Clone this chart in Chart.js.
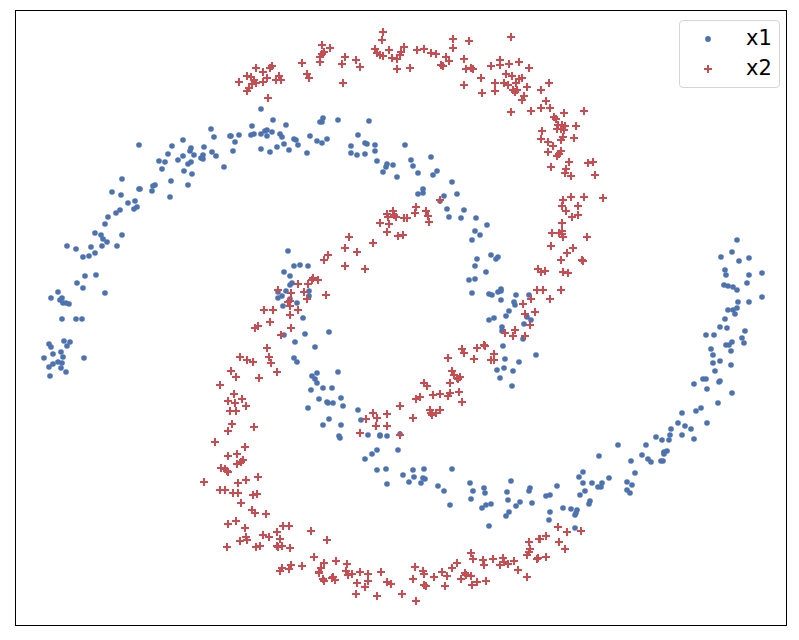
<!DOCTYPE html>
<html>
<head>
<meta charset="utf-8">
<script src="https://cdn.jsdelivr.net/npm/chart.js@4"></script>
<style>
    body { margin: 0; background: #fff; }
    #caixa { position: relative; width: 799px; height: 640px; }
    #legenda {
        position: absolute; left: 679px; top: 20px; width: 99px; height: 66px;
        border: 1px solid #d5d5d5; border-radius: 4px; background: #fff;
        font-family: "DejaVu Sans", sans-serif; font-size: 21px; color: #000;
    }
    #legenda span { position: absolute; left: 66px; line-height: 24px; }
    #legenda svg { position: absolute; left: 22px; }
</style>
</head>
<body>
<div id="caixa">
    <canvas id="grafico" width="799" height="640"></canvas>
    <div id="legenda"></div>
</div>
<script>
const seriesNames = ['x1', 'x2'];
const seriesColors = ['#4c72b0', '#c44e52'];

const x1X = [
    139,211,214,183,172,191,190,204,212,168, 183,194,203,201,203,159,165,178,191,188,
    162,184,192,122,171,188,155,153,139,140, 112,121,152,170,135,128,137,134,120,116,
    108,105,95,101,122,103,107,67,76,91, 102,117,95,89,83,96,85,77,83,105,
    58,51,62,60,63,66,69,62,76,82, 64,70,49,51,67,61,53,63,44,84,
    58,62,53,49,61,66,50,
    261,273,252,286,230,231,239,251,254,261, 265,267,272,267,280,282,235,233,216,224,
    261,270,277,284,289,294,296,298,310,307, 317,322,327,320,322,323,338,369,358,351,
    351,357,365,367,365,375,375,377,387,386, 393,
    405,383,397,431,411,413,418,437,433,452, 423,418,423,457,444,440,447,464,449,461,
    476,487,475,480,472,477,491,498,
    496,475,486,469,475,472,489,492,498,501, 501,501,516,529,514,515,509,506,527,531,
    489,494,524,502,502,523,503,536,505,519, 497,504,513,500,512,
    338,317,312,315,317,323,332,311,341,319, 327,328,333,343,308,358,329,361,323,341,
    339,340,368,380,380,387,400,377,398,372, 365,377,386,413,424,452,403,414,423,425,
    387,409,421,438,444,470,473,471,
    511,484,485,507,530,529,450,508,482,486, 491,520,516,532,509,506,489,
    557,550,546,563,550,549,571,577,576,575, 575,580,585,583,579,583,592,590,589,599,
    598,601,602,609,618,631,627,632,627,630, 635,642,646,648,651,656,662,661,663,664,
    664,667,669,670,671,
    737,732,721,739,749,725,726,749,762,747, 724,728,733,737,762,738,749,737,728,733,
    735,725,720,727,745,706,714,742,732,744, 726,729,711,731,713,713,720,731,715,703,
    706,720,719,694,707,732,718,701,696,682, 678,707,685,691,682,694,
    288,294,300,308,284,290,292,290,286,309, 278,309,282,278,290,297,283,303,284,305,
    329,295,315,294,297
];
const x1Y = [
    145,129,137,140,146,148,151,147,152,154, 156,155,155,158,159,161,162,160,162,164,
    169,171,174,179,181,185,185,186,189,189, 192,195,191,197,201,203,207,209,210,213,
    217,224,233,235,235,239,242,246,249,247, 246,246,253,256,257,275,276,283,288,293,
    292,298,298,300,303,303,304,319,319,319, 341,342,344,347,346,352,354,357,358,358,
    362,363,364,367,368,372,376,
    109,120,126,125,136,136,135,135,134,134, 131,130,132,136,134,137,142,151,156,167,
    149,152,147,144,150,139,140,145,136,153, 141,143,139,122,122,118,120,121,135,146,
    153,155,143,144,154,145,151,161,164,167, 165,
    145,172,177,157,160,166,173,171,175,182, 189,194,193,194,196,201,209,210,217,218,
    218,225,231,235,240,259,255,257,
    259,266,272,280,279,293,294,295,292,289, 291,300,295,295,302,305,311,316,317,320,
    320,318,324,327,331,339,346,355,359,362, 370,368,371,378,386,
    372,373,376,379,383,388,388,390,398,399, 402,403,403,406,408,410,419,420,425,425,
    436,438,435,435,436,436,434,450,450,454, 459,470,469,470,469,469,475,477,478,479,
    484,482,483,486,491,483,491,499,
    481,488,493,492,488,491,505,500,508,505, 504,502,506,503,512,516,526,
    486,495,496,508,512,520,509,510,513,515, 528,495,491,483,477,472,483,501,504,456,
    487,487,483,478,445,461,482,485,490,493, 473,455,445,459,462,437,440,461,461,452,
    454,451,440,435,429,
    240,252,257,261,258,270,275,275,273,283, 285,286,287,290,297,302,302,308,310,310,
    314,319,327,328,331,335,335,338,342,343, 345,345,349,351,355,363,361,365,371,379,
    379,381,382,384,389,393,403,408,411,413, 423,423,426,429,435,439,
    251,266,265,266,272,276,283,285,291,291, 292,296,296,298,299,303,306,318,335,334,
    332,342,347,358,362
];

const x2X = [
    239,247,249,247,251,256,254,256,252,263, 263,267,272,270,279,276,281,268,302,307,
    309,322,330,324,322,320,320,345,342,356, 360,343,383,382,375,377,380,383,389,392,
    397,400,397,
    404,401,410,417,424,431,436,453,453,469, 511,446,449,441,443,464,466,471,473,491,
    500,500,509,519,529,464,481,482,506,512, 522,519,516,495,495,504,508,527,513,517,
    515,524,522,549,541,546,541,550,531,511, 564,584,554,556,576,558,562,565,557,561,
    564,542,541,563,561,574,548,553,548,561, 559,557,569,588,593,551,566,565,571,595,
    440,416,415,426,428,603,563,571,584,
    429,387,388,393,394,396,404,407,380,389, 387,398,403,
    562,578,566,578,572,562,552,559,562,562, 563,587,551,573,567,561,582,583,538,545,
    541,563,568,537,543,561,531,550,523,535, 525,530,515,505,513,525,477,484,485,462,
    464,494,474,491,494,
    448,452,454,457,460,458,450,424,427,459, 450,448,440,433,420,416,462,400,440,430,
    436,432,431,413,373,387,366,377,376,387, 360,400,
    349,373,345,357,328,324,345,365,313,312, 318,298,308,278,291,304,326,307,290,288,
    290,264,273,298,290,270,258,255,291,281, 267,240,247,253,269,271,277,259,234,242,
    231,236,220,228,235,246,230,236,232,254, 228,215,245,228,237,243,241,237,221,225,
    227,228,258,246,238,204,220,225,233,238, 253,257,241,252,255,266,228,236,245,283,
    289,277,311,263,269,280,246,240,247,227, 256,260,277,278,282,290,314,291,302,282,
    280,289,319,
    327,324,336,347,321,319,323,324,332,333, 335,346,348,352,360,368,368,357,365,356,
    377,381,387,391,402,416,415,413,423,424, 424,426,434,442,447,445,452,457,461,465,
    466,471,472,477,486,471,473,483,484,493, 503,500,504,508,514,518,527,529,530,529,
    527,539,537,
    558,567,581,546,540,559,565,538,546
];
const x2Y = [
    82,91,88,76,77,68,80,83,84,72, 82,78,66,68,76,80,80,98,63,74,
    78,45,48,52,54,57,62,57,64,60, 67,83,32,40,49,53,55,56,50,58,
    59,55,69,
    47,52,68,50,49,53,54,39,48,41, 37,57,61,65,66,59,69,68,69,66,
    60,65,64,62,68,85,78,93,74,76, 78,79,83,83,91,83,85,87,90,90,
    92,96,100,83,90,101,108,108,111,112, 113,111,117,119,126,125,125,126,129,129,
    130,131,139,137,140,138,142,146,152,151, 154,156,162,163,162,167,169,173,176,175,
    200,207,213,211,216,198,200,197,197,
    222,214,217,211,215,217,218,218,223,224, 232,236,235,
    206,206,211,215,217,223,233,233,231,234, 237,237,246,248,253,260,260,261,269,271,
    272,272,273,290,290,290,299,299,304,312, 314,325,330,333,336,336,348,345,346,349,
    353,354,359,360,360,
    358,371,375,378,377,379,383,383,386,392, 393,396,394,395,397,399,402,406,410,410,
    413,415,413,418,413,414,419,418,426,426, 433,435,
    237,243,248,252,255,260,266,269,278,280, 280,284,284,290,293,292,295,299,301,302,
    306,310,310,310,315,322,326,328,328,335, 348,357,360,362,357,363,372,378,394,399,
    371,377,385,401,403,406,411,411,424,427, 431,442,447,456,454,460,462,464,468,469,
    471,472,477,480,483,482,490,490,493,493, 495,494,503,510,513,514,524,521,528,526,
    526,532,531,535,537,539,537,541,540,547, 547,546,546,547,546,548,557,565,566,568,
    571,569,572,
    540,563,561,564,568,573,579,581,578,577, 580,571,575,574,572,574,581,583,587,594,
    596,572,582,584,594,601,567,579,571,574, 585,586,577,572,576,586,568,563,579,573,
    575,576,585,582,581,553,559,560,565,559, 558,565,562,564,561,570,577,542,549,552,
    555,539,559,
    527,532,531,536,539,542,549,558,557
];

function juntar(xs, ys) {
    return xs.map((x, i) => ({ x: x, y: ys[i] }));
}

// moldura preta em volta da area do grafico
const moldura = {
    id: 'moldura',
    afterDraw(chart) {
        const a = chart.chartArea;
        const ctx = chart.ctx;
        ctx.save();
        ctx.strokeStyle = '#000';
        ctx.lineWidth = 1;
        ctx.strokeRect(a.left, a.top, a.right - a.left, a.bottom - a.top);
        ctx.restore();
    }
};

new Chart(document.getElementById('grafico'), {
    type: 'scatter',

    data: {
        datasets: [{
            label: seriesNames[0],
            data: juntar(x1X, x1Y),
            pointStyle: 'circle',
            pointRadius: 2.8,
            pointBackgroundColor: seriesColors[0],
            pointBorderWidth: 0,
            order: 2
        }, {
            label: seriesNames[1],
            data: juntar(x2X, x2Y),
            pointStyle: 'cross',
            pointRadius: 4,
            pointBorderColor: seriesColors[1],
            pointBorderWidth: 2,
            order: 1
        }]
    },

    options: {
        responsive: false,
        animation: false,
        layout: {
            padding: { left: 15.5, top: 10.5, right: 12.5, bottom: 14.5 }
        },
        scales: {
            x: { display: false, min: 15.5, max: 786.5 },
            y: { display: false, min: 10.5, max: 625.5, reverse: true }
        },
        plugins: {
            legend: { display: false },
            tooltip: { enabled: false }
        }
    },

    plugins: [moldura]
});

// legenda por cima do grafico, com os mesmos nomes e cores
document.getElementById('legenda').innerHTML =
    '<svg style="top:12px" width="12" height="12"><circle cx="6" cy="6" r="2.9" fill="' + seriesColors[0] + '"/></svg>' +
    '<span style="top:5px">' + seriesNames[0] + '</span>' +
    '<svg style="top:42px" width="12" height="12"><path d="M2 6H10M6 2V10" stroke="' + seriesColors[1] + '" stroke-width="2" fill="none"/></svg>' +
    '<span style="top:35px">' + seriesNames[1] + '</span>';
</script>
</body>
</html>
